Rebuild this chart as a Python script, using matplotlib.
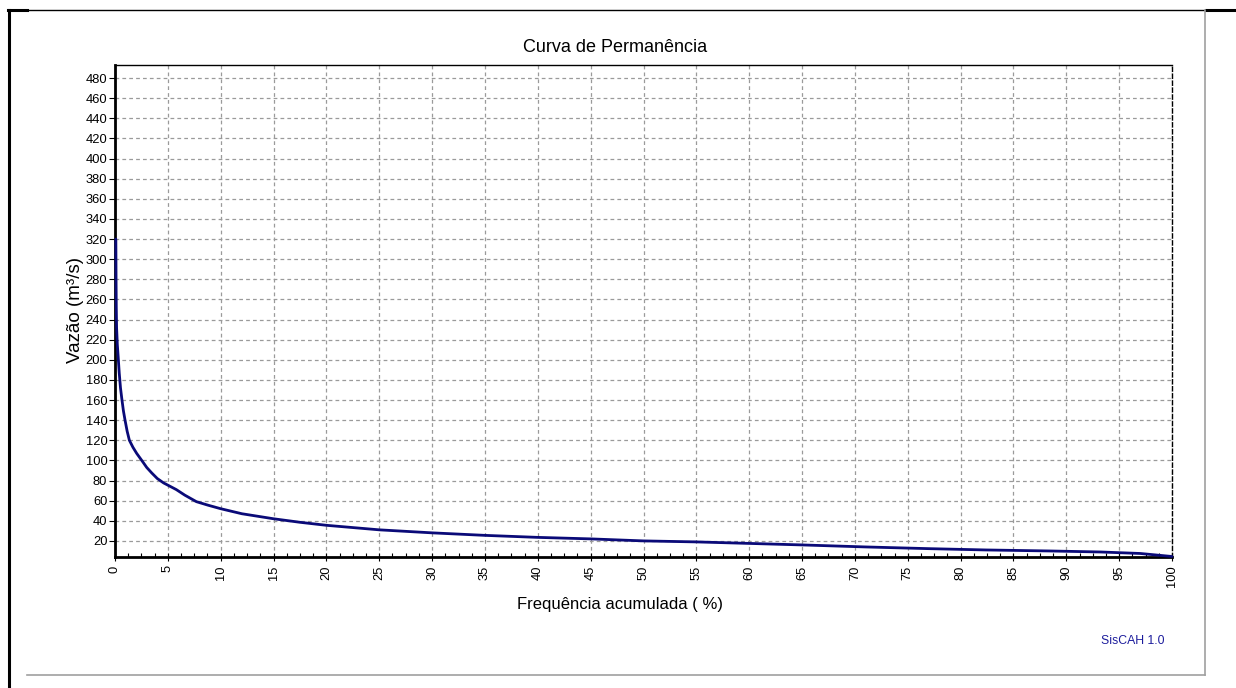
import matplotlib
matplotlib.use("Agg")
import matplotlib.pyplot as plt
from matplotlib.lines import Line2D
from matplotlib.ticker import MultipleLocator

plt.rcParams['font.family'] = ['Liberation Sans', 'DejaVu Sans']

# Data (permanence curve)
freq = [0.08, 0.1, 0.12, 0.15, 0.22, 0.3, 0.4, 0.52, 0.66, 0.8, 0.95, 1.15,
        1.36, 1.7, 2.05, 2.7, 3.0, 3.47, 4.0, 4.6, 5.8, 6.6, 7.7, 8.8, 10,
        12, 15, 17.5, 20, 25, 30, 35, 40, 45, 50, 55, 60, 65, 71, 77,
        82.4, 88.4, 93.2, 97, 98.5, 100]
flow = [320, 280, 253, 232, 215, 203, 187, 172, 160, 149, 140, 129,
        120, 113, 107, 97.5, 93, 87.6, 82, 77.6, 71, 65.5, 59, 55.5, 52,
        47, 42, 38.5, 35.5, 31, 28, 25.5, 23.5, 22, 20, 19, 17.5, 16, 14,
        12.3, 11, 10, 9, 7.5, 6, 4.5]

x_ticks = list(range(0, 101, 5))
y_ticks = list(range(20, 481, 20))

title = "Curva de Permanência"
xlabel = "Frequência acumulada ( %)"
ylabel = "Vazão (m³/s)"
credit = "SisCAH 1.0"

W, H = 1236, 688
fig = plt.figure(figsize=(W / 100, H / 100), dpi=100)
fig.patch.set_facecolor('white')

L, R, T, B = 115, 1172, 65, 557
ax = fig.add_axes([L / W, 1 - B / H, (R - L) / W, (B - T) / H])

ax.plot(freq, flow, color='#0a0a78', lw=2.0, solid_joinstyle='round',
        solid_capstyle='round', zorder=3, clip_on=False)

ax.set_xlim(0, 100)
ax.set_ylim(4, 493)
ax.set_xticks(x_ticks)
ax.set_yticks(y_ticks)
ax.xaxis.set_minor_locator(MultipleLocator(1.25))
ax.set_xticklabels([str(v) for v in x_ticks], rotation=90)

ax.grid(True, which='major', color='#9a9a9a', linestyle=(0, (3, 2.5)), lw=0.9)
ax.set_axisbelow(True)

ax.tick_params(axis='y', which='major', direction='out', length=4, width=0.8,
               labelsize=9.3, pad=1.5, colors='black')
ax.tick_params(axis='x', which='major', direction='inout', length=6, width=0.8,
               labelsize=9.3, pad=3, colors='black')
ax.tick_params(axis='x', which='minor', direction='in', length=3, width=0.8)

for s in ('left', 'bottom'):
    ax.spines[s].set_linewidth(2)
ax.spines['top'].set_linewidth(1)
ax.spines['right'].set_linewidth(1)
ax.spines['right'].set_linestyle((0, (3, 2)))

fig.text(615 / W, 1 - 47 / H, title, ha='center', va='center', fontsize=13)
fig.text(620 / W, 1 - 605 / H, xlabel, ha='center', va='center', fontsize=12)
fig.text(75 / W, 1 - 310 / H, ylabel, ha='center', va='center', fontsize=13.5,
         rotation=90)
fig.text(1133 / W, 1 - 641 / H, credit, ha='center', va='center', fontsize=8.8,
         color='#1c1c9c')

# outer frame lines
def fl(x0, y0, x1, y1, color, lw):
    fig.add_artist(Line2D([x0 / W, x1 / W], [1 - y0 / H, 1 - y1 / H],
                          transform=fig.transFigure, color=color, lw=lw))

fl(9, 10, 9, H, 'black', 2.2)
fl(8, 10, 27, 10, 'black', 2.2)
fl(27, 10, 1206, 10, 'black', 1.0)
fl(1206, 10, W, 10, 'black', 2.2)
fl(1205, 10, 1205, 675, '#a0a0a0', 1.2)
fl(27, 675, 1205, 675, '#a0a0a0', 1.2)

fig.savefig('out.png', dpi=100)
